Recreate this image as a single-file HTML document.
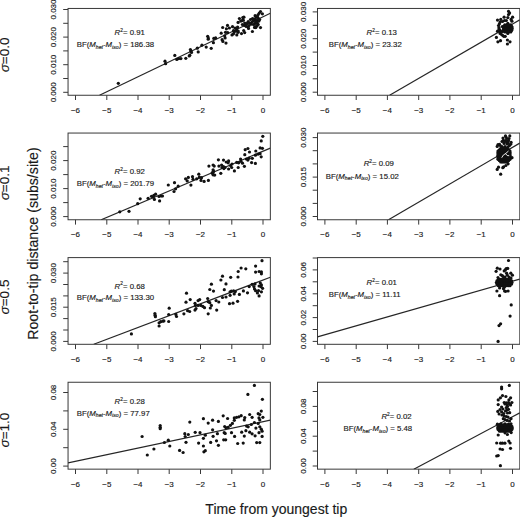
<!DOCTYPE html><html><head><meta charset="utf-8"><style>html,body{margin:0;padding:0;background:#fff;}svg{display:block;}text{font-family:"Liberation Sans",sans-serif;fill:#1a1a1a;stroke:#1a1a1a;stroke-width:0.15px;}</style></head><body>
<svg width="520" height="517" viewBox="0 0 520 517">
<defs>
<clipPath id="c1"><rect x="68.05" y="8.45" width="202.3" height="86.8"/></clipPath>
<clipPath id="c2"><rect x="317.5" y="8.45" width="202.29999999999995" height="86.8"/></clipPath>
<clipPath id="c3"><rect x="68.05" y="133.05" width="202.3" height="86.69999999999999"/></clipPath>
<clipPath id="c4"><rect x="317.5" y="133.05" width="202.29999999999995" height="86.69999999999999"/></clipPath>
<clipPath id="c5"><rect x="68.05" y="257.6" width="202.3" height="86.69999999999999"/></clipPath>
<clipPath id="c6"><rect x="317.5" y="257.6" width="202.29999999999995" height="86.69999999999999"/></clipPath>
<clipPath id="c7"><rect x="68.05" y="382.25" width="202.3" height="86.94999999999999"/></clipPath>
<clipPath id="c8"><rect x="317.5" y="382.25" width="202.29999999999995" height="86.94999999999999"/></clipPath>
</defs>
<rect x="68.05" y="8.45" width="202.3" height="86.8" fill="none" stroke="#383838" stroke-width="1"/>
<line x1="75.5" y1="95.25" x2="75.5" y2="100.0" stroke="#383838" stroke-width="1"/>
<text x="75.5" y="112.8" font-size="8" text-anchor="middle">−6</text>
<line x1="106.8" y1="95.25" x2="106.8" y2="100.0" stroke="#383838" stroke-width="1"/>
<text x="106.8" y="112.8" font-size="8" text-anchor="middle">−5</text>
<line x1="138.0" y1="95.25" x2="138.0" y2="100.0" stroke="#383838" stroke-width="1"/>
<text x="138.0" y="112.8" font-size="8" text-anchor="middle">−4</text>
<line x1="169.2" y1="95.25" x2="169.2" y2="100.0" stroke="#383838" stroke-width="1"/>
<text x="169.2" y="112.8" font-size="8" text-anchor="middle">−3</text>
<line x1="200.5" y1="95.25" x2="200.5" y2="100.0" stroke="#383838" stroke-width="1"/>
<text x="200.5" y="112.8" font-size="8" text-anchor="middle">−2</text>
<line x1="231.8" y1="95.25" x2="231.8" y2="100.0" stroke="#383838" stroke-width="1"/>
<text x="231.8" y="112.8" font-size="8" text-anchor="middle">−1</text>
<line x1="263.0" y1="95.25" x2="263.0" y2="100.0" stroke="#383838" stroke-width="1"/>
<text x="263.0" y="112.8" font-size="8" text-anchor="middle">0</text>
<line x1="63.2" y1="92.3" x2="68.05" y2="92.3" stroke="#383838" stroke-width="1"/>
<line x1="63.2" y1="78.5" x2="68.05" y2="78.5" stroke="#383838" stroke-width="1"/>
<line x1="63.2" y1="64.7" x2="68.05" y2="64.7" stroke="#383838" stroke-width="1"/>
<line x1="63.2" y1="50.9" x2="68.05" y2="50.9" stroke="#383838" stroke-width="1"/>
<line x1="63.2" y1="37.1" x2="68.05" y2="37.1" stroke="#383838" stroke-width="1"/>
<line x1="63.2" y1="23.3" x2="68.05" y2="23.3" stroke="#383838" stroke-width="1"/>
<line x1="63.2" y1="9.5" x2="68.05" y2="9.5" stroke="#383838" stroke-width="1"/>
<text x="56.4" y="92.3" font-size="8" text-anchor="middle" transform="rotate(-90 56.4 92.3)">0.000</text>
<text x="56.4" y="64.7" font-size="8" text-anchor="middle" transform="rotate(-90 56.4 64.7)">0.010</text>
<text x="56.4" y="37.1" font-size="8" text-anchor="middle" transform="rotate(-90 56.4 37.1)">0.020</text>
<text x="56.4" y="9.5" font-size="8" text-anchor="middle" transform="rotate(-90 56.4 9.5)">0.030</text>
<line x1="99.5" y1="95.25" x2="270.35" y2="13.3" stroke="#262626" stroke-width="1.2" clip-path="url(#c1)"/>
<g clip-path="url(#c1)" fill="#111"><circle cx="118.3" cy="83.3" r="1.6"/><circle cx="165.0" cy="61.2" r="1.6"/><circle cx="165.6" cy="63.7" r="1.6"/><circle cx="174.8" cy="55.4" r="1.6"/><circle cx="176.8" cy="59.4" r="1.6"/><circle cx="178.8" cy="58.6" r="1.6"/><circle cx="180.9" cy="58.6" r="1.6"/><circle cx="185.8" cy="58.3" r="1.6"/><circle cx="189.2" cy="56.0" r="1.6"/><circle cx="189.8" cy="55.2" r="1.6"/><circle cx="190.4" cy="49.6" r="1.6"/><circle cx="191.0" cy="51.3" r="1.6"/><circle cx="191.5" cy="52.5" r="1.6"/><circle cx="197.3" cy="48.2" r="1.6"/><circle cx="198.2" cy="51.9" r="1.6"/><circle cx="201.9" cy="45.2" r="1.6"/><circle cx="206.2" cy="47.1" r="1.6"/><circle cx="207.7" cy="36.3" r="1.6"/><circle cx="208.3" cy="38.1" r="1.6"/><circle cx="211.2" cy="48.3" r="1.6"/><circle cx="208.2" cy="39.2" r="1.6"/><circle cx="213.8" cy="38.4" r="1.6"/><circle cx="215.6" cy="37.9" r="1.6"/><circle cx="213.4" cy="42.7" r="1.6"/><circle cx="221.2" cy="33.2" r="1.6"/><circle cx="222.1" cy="39.7" r="1.6"/><circle cx="222.9" cy="41.4" r="1.6"/><circle cx="226.0" cy="43.1" r="1.6"/><circle cx="225.1" cy="37.9" r="1.6"/><circle cx="224.7" cy="35.8" r="1.6"/><circle cx="225.5" cy="32.3" r="1.6"/><circle cx="222.7" cy="27.5" r="1.6"/><circle cx="227.5" cy="25.4" r="1.6"/><circle cx="226.4" cy="28.8" r="1.6"/><circle cx="229.4" cy="28.0" r="1.6"/><circle cx="232.5" cy="26.7" r="1.6"/><circle cx="235.0" cy="28.0" r="1.6"/><circle cx="237.6" cy="27.1" r="1.6"/><circle cx="227.7" cy="32.7" r="1.6"/><circle cx="232.0" cy="34.9" r="1.6"/><circle cx="234.2" cy="31.9" r="1.6"/><circle cx="236.3" cy="31.0" r="1.6"/><circle cx="236.8" cy="34.9" r="1.6"/><circle cx="238.1" cy="32.3" r="1.6"/><circle cx="241.5" cy="33.6" r="1.6"/><circle cx="239.4" cy="18.5" r="1.6"/><circle cx="242.8" cy="17.6" r="1.6"/><circle cx="238.1" cy="22.4" r="1.6"/><circle cx="240.7" cy="21.1" r="1.6"/><circle cx="243.3" cy="20.2" r="1.6"/><circle cx="242.4" cy="24.5" r="1.6"/><circle cx="244.6" cy="25.4" r="1.6"/><circle cx="243.7" cy="30.6" r="1.6"/><circle cx="260.5" cy="11.5" r="1.6"/><circle cx="259.3" cy="13.0" r="1.6"/><circle cx="262.4" cy="13.8" r="1.6"/><circle cx="258.2" cy="14.5" r="1.6"/><circle cx="255.1" cy="15.7" r="1.6"/><circle cx="256.6" cy="17.2" r="1.6"/><circle cx="258.2" cy="18.0" r="1.6"/><circle cx="259.7" cy="19.5" r="1.6"/><circle cx="255.1" cy="18.8" r="1.6"/><circle cx="253.5" cy="20.7" r="1.6"/><circle cx="256.6" cy="20.7" r="1.6"/><circle cx="258.9" cy="21.1" r="1.6"/><circle cx="252.0" cy="22.2" r="1.6"/><circle cx="251.2" cy="24.2" r="1.6"/><circle cx="255.1" cy="23.4" r="1.6"/><circle cx="257.4" cy="23.4" r="1.6"/><circle cx="258.2" cy="24.5" r="1.6"/><circle cx="255.1" cy="26.5" r="1.6"/><circle cx="255.8" cy="27.6" r="1.6"/><circle cx="260.5" cy="27.6" r="1.6"/><circle cx="250.5" cy="19.5" r="1.6"/><circle cx="248.2" cy="21.5" r="1.6"/><circle cx="247.4" cy="23.0" r="1.6"/><circle cx="246.2" cy="24.5" r="1.6"/><circle cx="248.2" cy="26.8" r="1.6"/><circle cx="248.5" cy="28.4" r="1.6"/><circle cx="243.9" cy="17.2" r="1.6"/><circle cx="242.0" cy="20.7" r="1.6"/><circle cx="244.7" cy="23.0" r="1.6"/><circle cx="246.2" cy="26.5" r="1.6"/><circle cx="236.6" cy="28.8" r="1.6"/><circle cx="233.5" cy="30.7" r="1.6"/><circle cx="238.2" cy="31.1" r="1.6"/><circle cx="244.7" cy="32.6" r="1.6"/><circle cx="233.5" cy="33.8" r="1.6"/><circle cx="252.4" cy="31.5" r="1.6"/><circle cx="254.0" cy="19.0" r="1.6"/><circle cx="256.0" cy="21.5" r="1.6"/><circle cx="253.5" cy="24.5" r="1.6"/><circle cx="257.5" cy="16.0" r="1.6"/><circle cx="250.0" cy="23.0" r="1.6"/><circle cx="252.5" cy="18.5" r="1.6"/><circle cx="257.0" cy="26.0" r="1.6"/><circle cx="254.5" cy="27.5" r="1.6"/><circle cx="249.0" cy="25.5" r="1.6"/></g>
<text x="114.6" y="34.8" font-size="7.8"><tspan font-style="italic">R</tspan><tspan font-size="4.8" dy="-3.2">2</tspan><tspan dy="3.2">= 0.91</tspan></text>
<text x="76.7" y="46.9" font-size="7.8">BF(<tspan font-style="italic">M</tspan><tspan font-style="italic" font-size="5.2" dy="1.6">het</tspan><tspan dy="-1.6">-</tspan><tspan font-style="italic">M</tspan><tspan font-style="italic" font-size="5.2" dy="1.6">iso</tspan><tspan dy="-1.6">) = 186.38</tspan></text>
<rect x="317.5" y="8.45" width="202.3" height="86.8" fill="none" stroke="#383838" stroke-width="1"/>
<line x1="324.9" y1="95.25" x2="324.9" y2="100.0" stroke="#383838" stroke-width="1"/>
<text x="324.9" y="112.8" font-size="8" text-anchor="middle">−6</text>
<line x1="356.2" y1="95.25" x2="356.2" y2="100.0" stroke="#383838" stroke-width="1"/>
<text x="356.2" y="112.8" font-size="8" text-anchor="middle">−5</text>
<line x1="387.4" y1="95.25" x2="387.4" y2="100.0" stroke="#383838" stroke-width="1"/>
<text x="387.4" y="112.8" font-size="8" text-anchor="middle">−4</text>
<line x1="418.7" y1="95.25" x2="418.7" y2="100.0" stroke="#383838" stroke-width="1"/>
<text x="418.7" y="112.8" font-size="8" text-anchor="middle">−3</text>
<line x1="449.9" y1="95.25" x2="449.9" y2="100.0" stroke="#383838" stroke-width="1"/>
<text x="449.9" y="112.8" font-size="8" text-anchor="middle">−2</text>
<line x1="481.2" y1="95.25" x2="481.2" y2="100.0" stroke="#383838" stroke-width="1"/>
<text x="481.2" y="112.8" font-size="8" text-anchor="middle">−1</text>
<line x1="512.5" y1="95.25" x2="512.5" y2="100.0" stroke="#383838" stroke-width="1"/>
<text x="512.5" y="112.8" font-size="8" text-anchor="middle">0</text>
<line x1="312.7" y1="92.2" x2="317.5" y2="92.2" stroke="#383838" stroke-width="1"/>
<line x1="312.7" y1="78.8" x2="317.5" y2="78.8" stroke="#383838" stroke-width="1"/>
<line x1="312.7" y1="65.5" x2="317.5" y2="65.5" stroke="#383838" stroke-width="1"/>
<line x1="312.7" y1="52.1" x2="317.5" y2="52.1" stroke="#383838" stroke-width="1"/>
<line x1="312.7" y1="38.7" x2="317.5" y2="38.7" stroke="#383838" stroke-width="1"/>
<line x1="312.7" y1="25.3" x2="317.5" y2="25.3" stroke="#383838" stroke-width="1"/>
<line x1="312.7" y1="11.9" x2="317.5" y2="11.9" stroke="#383838" stroke-width="1"/>
<text x="305.9" y="92.2" font-size="8" text-anchor="middle" transform="rotate(-90 305.9 92.2)">0.000</text>
<text x="305.9" y="65.5" font-size="8" text-anchor="middle" transform="rotate(-90 305.9 65.5)">0.010</text>
<text x="305.9" y="38.7" font-size="8" text-anchor="middle" transform="rotate(-90 305.9 38.7)">0.020</text>
<text x="305.9" y="11.9" font-size="8" text-anchor="middle" transform="rotate(-90 305.9 11.9)">0.030</text>
<line x1="389.6" y1="95.25" x2="519.8" y2="19.8" stroke="#262626" stroke-width="1.2" clip-path="url(#c2)"/>
<g clip-path="url(#c2)" fill="#111"><circle cx="508.5" cy="11.3" r="1.6"/><circle cx="509.6" cy="13.1" r="1.6"/><circle cx="508.5" cy="14.6" r="1.6"/><circle cx="504.1" cy="17.2" r="1.6"/><circle cx="507.8" cy="17.6" r="1.6"/><circle cx="512.6" cy="17.2" r="1.6"/><circle cx="511.1" cy="19.4" r="1.6"/><circle cx="500.8" cy="19.4" r="1.6"/><circle cx="497.5" cy="20.1" r="1.6"/><circle cx="500.1" cy="22.0" r="1.6"/><circle cx="506.3" cy="20.5" r="1.6"/><circle cx="511.9" cy="21.2" r="1.6"/><circle cx="499.4" cy="23.8" r="1.6"/><circle cx="499.0" cy="27.5" r="1.6"/><circle cx="497.5" cy="31.2" r="1.6"/><circle cx="499.7" cy="30.1" r="1.6"/><circle cx="500.1" cy="33.4" r="1.6"/><circle cx="501.6" cy="34.5" r="1.6"/><circle cx="496.4" cy="37.4" r="1.6"/><circle cx="503.8" cy="36.3" r="1.6"/><circle cx="505.2" cy="36.3" r="1.6"/><circle cx="497.9" cy="41.8" r="1.6"/><circle cx="500.5" cy="40.7" r="1.6"/><circle cx="507.4" cy="40.0" r="1.6"/><circle cx="510.0" cy="41.8" r="1.6"/><circle cx="507.4" cy="44.0" r="1.6"/><circle cx="502.3" cy="26.5" r="1.6"/><circle cx="502.6" cy="31.5" r="1.6"/><circle cx="498.5" cy="25.5" r="1.6"/><circle cx="499.0" cy="29.0" r="1.6"/><circle cx="500.5" cy="32.0" r="1.6"/><circle cx="502.5" cy="21.5" r="1.6"/><circle cx="504.5" cy="20.5" r="1.6"/><circle cx="502.8" cy="35.5" r="1.6"/><circle cx="507.8" cy="23.4" r="1.6"/><circle cx="504.8" cy="24.8" r="1.6"/><circle cx="506.8" cy="24.8" r="1.6"/><circle cx="508.8" cy="24.8" r="1.6"/><circle cx="510.8" cy="24.8" r="1.6"/><circle cx="503.9" cy="26.3" r="1.6"/><circle cx="505.9" cy="26.3" r="1.6"/><circle cx="507.8" cy="26.3" r="1.6"/><circle cx="509.7" cy="26.3" r="1.6"/><circle cx="511.7" cy="26.3" r="1.6"/><circle cx="503.5" cy="27.7" r="1.6"/><circle cx="505.2" cy="27.7" r="1.6"/><circle cx="506.9" cy="27.7" r="1.6"/><circle cx="508.6" cy="27.7" r="1.6"/><circle cx="510.4" cy="27.7" r="1.6"/><circle cx="512.1" cy="27.7" r="1.6"/><circle cx="503.5" cy="29.1" r="1.6"/><circle cx="505.2" cy="29.1" r="1.6"/><circle cx="506.9" cy="29.1" r="1.6"/><circle cx="508.6" cy="29.1" r="1.6"/><circle cx="510.4" cy="29.1" r="1.6"/><circle cx="512.1" cy="29.1" r="1.6"/><circle cx="503.9" cy="30.5" r="1.6"/><circle cx="505.9" cy="30.5" r="1.6"/><circle cx="507.8" cy="30.5" r="1.6"/><circle cx="509.7" cy="30.5" r="1.6"/><circle cx="511.7" cy="30.5" r="1.6"/><circle cx="504.8" cy="32.0" r="1.6"/><circle cx="506.8" cy="32.0" r="1.6"/><circle cx="508.8" cy="32.0" r="1.6"/><circle cx="510.8" cy="32.0" r="1.6"/><circle cx="507.8" cy="33.4" r="1.6"/></g>
<text x="366.6" y="35.0" font-size="7.8"><tspan font-style="italic">R</tspan><tspan font-size="4.8" dy="-3.2">2</tspan><tspan dy="3.2">= 0.13</tspan></text>
<text x="328.7" y="47.0" font-size="7.8">BF(<tspan font-style="italic">M</tspan><tspan font-style="italic" font-size="5.2" dy="1.6">het</tspan><tspan dy="-1.6">-</tspan><tspan font-style="italic">M</tspan><tspan font-style="italic" font-size="5.2" dy="1.6">iso</tspan><tspan dy="-1.6">) = 23.32</tspan></text>
<rect x="68.05" y="133.05" width="202.3" height="86.7" fill="none" stroke="#383838" stroke-width="1"/>
<line x1="75.5" y1="219.75" x2="75.5" y2="224.6" stroke="#383838" stroke-width="1"/>
<text x="75.5" y="237.2" font-size="8" text-anchor="middle">−6</text>
<line x1="106.8" y1="219.75" x2="106.8" y2="224.6" stroke="#383838" stroke-width="1"/>
<text x="106.8" y="237.2" font-size="8" text-anchor="middle">−5</text>
<line x1="138.0" y1="219.75" x2="138.0" y2="224.6" stroke="#383838" stroke-width="1"/>
<text x="138.0" y="237.2" font-size="8" text-anchor="middle">−4</text>
<line x1="169.2" y1="219.75" x2="169.2" y2="224.6" stroke="#383838" stroke-width="1"/>
<text x="169.2" y="237.2" font-size="8" text-anchor="middle">−3</text>
<line x1="200.5" y1="219.75" x2="200.5" y2="224.6" stroke="#383838" stroke-width="1"/>
<text x="200.5" y="237.2" font-size="8" text-anchor="middle">−2</text>
<line x1="231.8" y1="219.75" x2="231.8" y2="224.6" stroke="#383838" stroke-width="1"/>
<text x="231.8" y="237.2" font-size="8" text-anchor="middle">−1</text>
<line x1="263.0" y1="219.75" x2="263.0" y2="224.6" stroke="#383838" stroke-width="1"/>
<text x="263.0" y="237.2" font-size="8" text-anchor="middle">0</text>
<line x1="63.2" y1="216.6" x2="68.05" y2="216.6" stroke="#383838" stroke-width="1"/>
<line x1="63.2" y1="202.6" x2="68.05" y2="202.6" stroke="#383838" stroke-width="1"/>
<line x1="63.2" y1="188.6" x2="68.05" y2="188.6" stroke="#383838" stroke-width="1"/>
<line x1="63.2" y1="174.6" x2="68.05" y2="174.6" stroke="#383838" stroke-width="1"/>
<line x1="63.2" y1="160.6" x2="68.05" y2="160.6" stroke="#383838" stroke-width="1"/>
<line x1="63.2" y1="146.6" x2="68.05" y2="146.6" stroke="#383838" stroke-width="1"/>
<text x="56.4" y="216.6" font-size="8" text-anchor="middle" transform="rotate(-90 56.4 216.6)">0.000</text>
<text x="56.4" y="188.6" font-size="8" text-anchor="middle" transform="rotate(-90 56.4 188.6)">0.010</text>
<text x="56.4" y="160.6" font-size="8" text-anchor="middle" transform="rotate(-90 56.4 160.6)">0.020</text>
<line x1="101.2" y1="219.75" x2="270.35" y2="148.1" stroke="#262626" stroke-width="1.2" clip-path="url(#c3)"/>
<g clip-path="url(#c3)" fill="#111"><circle cx="168.3" cy="185.0" r="1.6"/><circle cx="119.8" cy="211.8" r="1.6"/><circle cx="129.0" cy="211.3" r="1.6"/><circle cx="137.7" cy="203.7" r="1.6"/><circle cx="140.2" cy="198.8" r="1.6"/><circle cx="148.1" cy="198.3" r="1.6"/><circle cx="151.5" cy="196.3" r="1.6"/><circle cx="153.3" cy="197.1" r="1.6"/><circle cx="154.4" cy="199.4" r="1.6"/><circle cx="155.6" cy="194.2" r="1.6"/><circle cx="153.8" cy="195.4" r="1.6"/><circle cx="159.0" cy="196.5" r="1.6"/><circle cx="161.3" cy="196.0" r="1.6"/><circle cx="162.5" cy="196.0" r="1.6"/><circle cx="159.6" cy="200.9" r="1.6"/><circle cx="174.5" cy="182.7" r="1.6"/><circle cx="178.2" cy="186.2" r="1.6"/><circle cx="175.6" cy="188.8" r="1.6"/><circle cx="174.0" cy="191.5" r="1.6"/><circle cx="185.6" cy="178.8" r="1.6"/><circle cx="188.3" cy="177.4" r="1.6"/><circle cx="187.2" cy="180.9" r="1.6"/><circle cx="190.9" cy="185.1" r="1.6"/><circle cx="192.5" cy="176.7" r="1.6"/><circle cx="193.0" cy="179.3" r="1.6"/><circle cx="196.7" cy="178.8" r="1.6"/><circle cx="198.8" cy="174.2" r="1.6"/><circle cx="199.4" cy="177.2" r="1.6"/><circle cx="201.5" cy="177.7" r="1.6"/><circle cx="201.0" cy="180.4" r="1.6"/><circle cx="204.1" cy="181.4" r="1.6"/><circle cx="208.4" cy="180.4" r="1.6"/><circle cx="208.9" cy="166.1" r="1.6"/><circle cx="213.1" cy="165.0" r="1.6"/><circle cx="214.2" cy="166.1" r="1.6"/><circle cx="213.1" cy="169.8" r="1.6"/><circle cx="213.7" cy="171.4" r="1.6"/><circle cx="212.6" cy="173.5" r="1.6"/><circle cx="214.7" cy="175.1" r="1.6"/><circle cx="218.4" cy="159.8" r="1.6"/><circle cx="218.9" cy="166.1" r="1.6"/><circle cx="212.3" cy="172.5" r="1.6"/><circle cx="213.1" cy="174.8" r="1.6"/><circle cx="221.6" cy="165.1" r="1.6"/><circle cx="222.0" cy="167.5" r="1.6"/><circle cx="223.5" cy="166.7" r="1.6"/><circle cx="223.9" cy="168.6" r="1.6"/><circle cx="225.1" cy="167.5" r="1.6"/><circle cx="220.8" cy="173.3" r="1.6"/><circle cx="223.5" cy="160.1" r="1.6"/><circle cx="226.2" cy="162.0" r="1.6"/><circle cx="228.2" cy="162.8" r="1.6"/><circle cx="228.6" cy="160.9" r="1.6"/><circle cx="230.5" cy="165.5" r="1.6"/><circle cx="232.0" cy="164.0" r="1.6"/><circle cx="231.7" cy="167.5" r="1.6"/><circle cx="228.6" cy="169.0" r="1.6"/><circle cx="234.4" cy="170.9" r="1.6"/><circle cx="236.7" cy="162.4" r="1.6"/><circle cx="238.6" cy="162.8" r="1.6"/><circle cx="240.6" cy="159.0" r="1.6"/><circle cx="240.9" cy="161.3" r="1.6"/><circle cx="242.5" cy="163.2" r="1.6"/><circle cx="238.2" cy="167.5" r="1.6"/><circle cx="244.4" cy="166.3" r="1.6"/><circle cx="244.8" cy="154.7" r="1.6"/><circle cx="245.2" cy="149.7" r="1.6"/><circle cx="247.9" cy="148.5" r="1.6"/><circle cx="249.5" cy="152.0" r="1.6"/><circle cx="246.4" cy="159.0" r="1.6"/><circle cx="247.9" cy="160.1" r="1.6"/><circle cx="249.1" cy="158.2" r="1.6"/><circle cx="262.8" cy="136.3" r="1.6"/><circle cx="261.2" cy="140.9" r="1.6"/><circle cx="260.1" cy="147.9" r="1.6"/><circle cx="262.4" cy="148.3" r="1.6"/><circle cx="255.8" cy="151.0" r="1.6"/><circle cx="255.4" cy="155.2" r="1.6"/><circle cx="258.1" cy="154.1" r="1.6"/><circle cx="260.1" cy="153.7" r="1.6"/><circle cx="261.2" cy="156.8" r="1.6"/><circle cx="252.3" cy="158.3" r="1.6"/><circle cx="251.6" cy="162.6" r="1.6"/><circle cx="255.4" cy="163.4" r="1.6"/></g>
<text x="114.6" y="174.2" font-size="7.8"><tspan font-style="italic">R</tspan><tspan font-size="4.8" dy="-3.2">2</tspan><tspan dy="3.2">= 0.92</tspan></text>
<text x="76.7" y="186.2" font-size="7.8">BF(<tspan font-style="italic">M</tspan><tspan font-style="italic" font-size="5.2" dy="1.6">het</tspan><tspan dy="-1.6">-</tspan><tspan font-style="italic">M</tspan><tspan font-style="italic" font-size="5.2" dy="1.6">iso</tspan><tspan dy="-1.6">) = 201.79</tspan></text>
<rect x="317.5" y="133.05" width="202.3" height="86.7" fill="none" stroke="#383838" stroke-width="1"/>
<line x1="324.9" y1="219.75" x2="324.9" y2="224.6" stroke="#383838" stroke-width="1"/>
<text x="324.9" y="237.2" font-size="8" text-anchor="middle">−6</text>
<line x1="356.2" y1="219.75" x2="356.2" y2="224.6" stroke="#383838" stroke-width="1"/>
<text x="356.2" y="237.2" font-size="8" text-anchor="middle">−5</text>
<line x1="387.4" y1="219.75" x2="387.4" y2="224.6" stroke="#383838" stroke-width="1"/>
<text x="387.4" y="237.2" font-size="8" text-anchor="middle">−4</text>
<line x1="418.7" y1="219.75" x2="418.7" y2="224.6" stroke="#383838" stroke-width="1"/>
<text x="418.7" y="237.2" font-size="8" text-anchor="middle">−3</text>
<line x1="449.9" y1="219.75" x2="449.9" y2="224.6" stroke="#383838" stroke-width="1"/>
<text x="449.9" y="237.2" font-size="8" text-anchor="middle">−2</text>
<line x1="481.2" y1="219.75" x2="481.2" y2="224.6" stroke="#383838" stroke-width="1"/>
<text x="481.2" y="237.2" font-size="8" text-anchor="middle">−1</text>
<line x1="512.5" y1="219.75" x2="512.5" y2="224.6" stroke="#383838" stroke-width="1"/>
<text x="512.5" y="237.2" font-size="8" text-anchor="middle">0</text>
<line x1="312.7" y1="216.5" x2="317.5" y2="216.5" stroke="#383838" stroke-width="1"/>
<line x1="312.7" y1="203.4" x2="317.5" y2="203.4" stroke="#383838" stroke-width="1"/>
<line x1="312.7" y1="190.2" x2="317.5" y2="190.2" stroke="#383838" stroke-width="1"/>
<line x1="312.7" y1="177.1" x2="317.5" y2="177.1" stroke="#383838" stroke-width="1"/>
<line x1="312.7" y1="163.9" x2="317.5" y2="163.9" stroke="#383838" stroke-width="1"/>
<line x1="312.7" y1="150.7" x2="317.5" y2="150.7" stroke="#383838" stroke-width="1"/>
<line x1="312.7" y1="137.6" x2="317.5" y2="137.6" stroke="#383838" stroke-width="1"/>
<text x="305.9" y="216.5" font-size="8" text-anchor="middle" transform="rotate(-90 305.9 216.5)">0.000</text>
<text x="305.9" y="177.1" font-size="8" text-anchor="middle" transform="rotate(-90 305.9 177.1)">0.015</text>
<text x="305.9" y="137.6" font-size="8" text-anchor="middle" transform="rotate(-90 305.9 137.6)">0.030</text>
<line x1="388.5" y1="219.75" x2="519.8" y2="143.1" stroke="#262626" stroke-width="1.2" clip-path="url(#c4)"/>
<g clip-path="url(#c4)" fill="#111"><circle cx="505.5" cy="135.9" r="1.6"/><circle cx="509.8" cy="135.9" r="1.6"/><circle cx="506.8" cy="138.5" r="1.6"/><circle cx="503.3" cy="140.3" r="1.6"/><circle cx="505.5" cy="140.7" r="1.6"/><circle cx="508.5" cy="140.7" r="1.6"/><circle cx="511.1" cy="142.4" r="1.6"/><circle cx="510.7" cy="144.2" r="1.6"/><circle cx="508.1" cy="143.3" r="1.6"/><circle cx="498.0" cy="144.6" r="1.6"/><circle cx="497.2" cy="146.4" r="1.6"/><circle cx="500.2" cy="145.5" r="1.6"/><circle cx="502.0" cy="141.5" r="1.6"/><circle cx="507.0" cy="142.0" r="1.6"/><circle cx="504.0" cy="143.5" r="1.6"/><circle cx="512.0" cy="157.7" r="1.6"/><circle cx="508.1" cy="163.8" r="1.6"/><circle cx="505.9" cy="165.5" r="1.6"/><circle cx="503.7" cy="166.8" r="1.6"/><circle cx="502.8" cy="167.7" r="1.6"/><circle cx="498.5" cy="167.2" r="1.6"/><circle cx="497.2" cy="169.4" r="1.6"/><circle cx="500.7" cy="174.2" r="1.6"/><circle cx="499.5" cy="144.3" r="1.6"/><circle cx="503.0" cy="138.0" r="1.6"/><circle cx="506.0" cy="137.0" r="1.6"/><circle cx="509.0" cy="138.5" r="1.6"/><circle cx="504.5" cy="142.0" r="1.6"/><circle cx="507.0" cy="144.0" r="1.6"/><circle cx="509.5" cy="145.5" r="1.6"/><circle cx="502.0" cy="146.5" r="1.6"/><circle cx="505.0" cy="146.5" r="1.6"/><circle cx="508.0" cy="147.0" r="1.6"/><circle cx="500.7" cy="148.4" r="1.6"/><circle cx="502.0" cy="148.4" r="1.6"/><circle cx="503.3" cy="148.4" r="1.6"/><circle cx="504.7" cy="148.4" r="1.6"/><circle cx="506.0" cy="148.4" r="1.6"/><circle cx="507.3" cy="148.4" r="1.6"/><circle cx="499.3" cy="149.8" r="1.6"/><circle cx="500.7" cy="149.8" r="1.6"/><circle cx="502.0" cy="149.8" r="1.6"/><circle cx="503.3" cy="149.8" r="1.6"/><circle cx="504.7" cy="149.8" r="1.6"/><circle cx="506.0" cy="149.8" r="1.6"/><circle cx="507.3" cy="149.8" r="1.6"/><circle cx="508.7" cy="149.8" r="1.6"/><circle cx="498.0" cy="151.1" r="1.6"/><circle cx="499.3" cy="151.1" r="1.6"/><circle cx="500.7" cy="151.1" r="1.6"/><circle cx="502.0" cy="151.1" r="1.6"/><circle cx="503.3" cy="151.1" r="1.6"/><circle cx="504.7" cy="151.1" r="1.6"/><circle cx="506.0" cy="151.1" r="1.6"/><circle cx="507.3" cy="151.1" r="1.6"/><circle cx="508.7" cy="151.1" r="1.6"/><circle cx="510.0" cy="151.1" r="1.6"/><circle cx="498.0" cy="152.5" r="1.6"/><circle cx="499.3" cy="152.5" r="1.6"/><circle cx="500.7" cy="152.5" r="1.6"/><circle cx="502.0" cy="152.5" r="1.6"/><circle cx="503.3" cy="152.5" r="1.6"/><circle cx="504.7" cy="152.5" r="1.6"/><circle cx="506.0" cy="152.5" r="1.6"/><circle cx="507.3" cy="152.5" r="1.6"/><circle cx="508.7" cy="152.5" r="1.6"/><circle cx="510.0" cy="152.5" r="1.6"/><circle cx="498.0" cy="153.8" r="1.6"/><circle cx="499.3" cy="153.8" r="1.6"/><circle cx="500.7" cy="153.8" r="1.6"/><circle cx="502.0" cy="153.8" r="1.6"/><circle cx="503.3" cy="153.8" r="1.6"/><circle cx="504.7" cy="153.8" r="1.6"/><circle cx="506.0" cy="153.8" r="1.6"/><circle cx="507.3" cy="153.8" r="1.6"/><circle cx="508.7" cy="153.8" r="1.6"/><circle cx="510.0" cy="153.8" r="1.6"/><circle cx="498.0" cy="155.2" r="1.6"/><circle cx="499.3" cy="155.2" r="1.6"/><circle cx="500.7" cy="155.2" r="1.6"/><circle cx="502.0" cy="155.2" r="1.6"/><circle cx="503.3" cy="155.2" r="1.6"/><circle cx="504.7" cy="155.2" r="1.6"/><circle cx="506.0" cy="155.2" r="1.6"/><circle cx="507.3" cy="155.2" r="1.6"/><circle cx="508.7" cy="155.2" r="1.6"/><circle cx="510.0" cy="155.2" r="1.6"/><circle cx="498.0" cy="156.6" r="1.6"/><circle cx="499.3" cy="156.6" r="1.6"/><circle cx="500.7" cy="156.6" r="1.6"/><circle cx="502.0" cy="156.6" r="1.6"/><circle cx="503.3" cy="156.6" r="1.6"/><circle cx="504.7" cy="156.6" r="1.6"/><circle cx="506.0" cy="156.6" r="1.6"/><circle cx="507.3" cy="156.6" r="1.6"/><circle cx="508.7" cy="156.6" r="1.6"/><circle cx="510.0" cy="156.6" r="1.6"/><circle cx="498.0" cy="157.9" r="1.6"/><circle cx="499.3" cy="157.9" r="1.6"/><circle cx="500.7" cy="157.9" r="1.6"/><circle cx="502.0" cy="157.9" r="1.6"/><circle cx="503.3" cy="157.9" r="1.6"/><circle cx="504.7" cy="157.9" r="1.6"/><circle cx="506.0" cy="157.9" r="1.6"/><circle cx="507.3" cy="157.9" r="1.6"/><circle cx="508.7" cy="157.9" r="1.6"/><circle cx="510.0" cy="157.9" r="1.6"/><circle cx="498.0" cy="159.3" r="1.6"/><circle cx="499.3" cy="159.3" r="1.6"/><circle cx="500.7" cy="159.3" r="1.6"/><circle cx="502.0" cy="159.3" r="1.6"/><circle cx="503.3" cy="159.3" r="1.6"/><circle cx="504.7" cy="159.3" r="1.6"/><circle cx="506.0" cy="159.3" r="1.6"/><circle cx="507.3" cy="159.3" r="1.6"/><circle cx="508.7" cy="159.3" r="1.6"/><circle cx="510.0" cy="159.3" r="1.6"/><circle cx="499.3" cy="160.6" r="1.6"/><circle cx="500.7" cy="160.6" r="1.6"/><circle cx="502.0" cy="160.6" r="1.6"/><circle cx="503.3" cy="160.6" r="1.6"/><circle cx="504.7" cy="160.6" r="1.6"/><circle cx="506.0" cy="160.6" r="1.6"/><circle cx="507.3" cy="160.6" r="1.6"/><circle cx="508.7" cy="160.6" r="1.6"/><circle cx="500.7" cy="162.0" r="1.6"/><circle cx="502.0" cy="162.0" r="1.6"/><circle cx="503.3" cy="162.0" r="1.6"/><circle cx="504.7" cy="162.0" r="1.6"/><circle cx="506.0" cy="162.0" r="1.6"/><circle cx="507.3" cy="162.0" r="1.6"/></g>
<polyline points="508.2,151.3 505.6,153.6 503.3,155.1 501.9,157.4" fill="none" stroke="#fff" stroke-width="0.9" stroke-linecap="round" stroke-linejoin="round"/>
<polyline points="505.6,153.6 507.2,155.5 508.8,155.7" fill="none" stroke="#fff" stroke-width="0.9" stroke-linecap="round" stroke-linejoin="round"/>
<text x="363.7" y="166.2" font-size="7.8"><tspan font-style="italic">R</tspan><tspan font-size="4.8" dy="-3.2">2</tspan><tspan dy="3.2">= 0.09</tspan></text>
<text x="325.8" y="178.5" font-size="7.8">BF(<tspan font-style="italic">M</tspan><tspan font-style="italic" font-size="5.2" dy="1.6">het</tspan><tspan dy="-1.6">-</tspan><tspan font-style="italic">M</tspan><tspan font-style="italic" font-size="5.2" dy="1.6">iso</tspan><tspan dy="-1.6">) = 15.02</tspan></text>
<rect x="68.05" y="257.6" width="202.3" height="86.7" fill="none" stroke="#383838" stroke-width="1"/>
<line x1="75.5" y1="344.3" x2="75.5" y2="349.1" stroke="#383838" stroke-width="1"/>
<text x="75.5" y="361.8" font-size="8" text-anchor="middle">−6</text>
<line x1="106.8" y1="344.3" x2="106.8" y2="349.1" stroke="#383838" stroke-width="1"/>
<text x="106.8" y="361.8" font-size="8" text-anchor="middle">−5</text>
<line x1="138.0" y1="344.3" x2="138.0" y2="349.1" stroke="#383838" stroke-width="1"/>
<text x="138.0" y="361.8" font-size="8" text-anchor="middle">−4</text>
<line x1="169.2" y1="344.3" x2="169.2" y2="349.1" stroke="#383838" stroke-width="1"/>
<text x="169.2" y="361.8" font-size="8" text-anchor="middle">−3</text>
<line x1="200.5" y1="344.3" x2="200.5" y2="349.1" stroke="#383838" stroke-width="1"/>
<text x="200.5" y="361.8" font-size="8" text-anchor="middle">−2</text>
<line x1="231.8" y1="344.3" x2="231.8" y2="349.1" stroke="#383838" stroke-width="1"/>
<text x="231.8" y="361.8" font-size="8" text-anchor="middle">−1</text>
<line x1="263.0" y1="344.3" x2="263.0" y2="349.1" stroke="#383838" stroke-width="1"/>
<text x="263.0" y="361.8" font-size="8" text-anchor="middle">0</text>
<line x1="63.2" y1="341.4" x2="68.05" y2="341.4" stroke="#383838" stroke-width="1"/>
<line x1="63.2" y1="330.0" x2="68.05" y2="330.0" stroke="#383838" stroke-width="1"/>
<line x1="63.2" y1="318.6" x2="68.05" y2="318.6" stroke="#383838" stroke-width="1"/>
<line x1="63.2" y1="307.2" x2="68.05" y2="307.2" stroke="#383838" stroke-width="1"/>
<line x1="63.2" y1="295.9" x2="68.05" y2="295.9" stroke="#383838" stroke-width="1"/>
<line x1="63.2" y1="284.5" x2="68.05" y2="284.5" stroke="#383838" stroke-width="1"/>
<line x1="63.2" y1="273.1" x2="68.05" y2="273.1" stroke="#383838" stroke-width="1"/>
<line x1="63.2" y1="261.7" x2="68.05" y2="261.7" stroke="#383838" stroke-width="1"/>
<text x="56.4" y="341.4" font-size="8" text-anchor="middle" transform="rotate(-90 56.4 341.4)">0.000</text>
<text x="56.4" y="307.2" font-size="8" text-anchor="middle" transform="rotate(-90 56.4 307.2)">0.015</text>
<text x="56.4" y="273.1" font-size="8" text-anchor="middle" transform="rotate(-90 56.4 273.1)">0.030</text>
<line x1="93.8" y1="344.3" x2="270.35" y2="277.3" stroke="#262626" stroke-width="1.2" clip-path="url(#c5)"/>
<g clip-path="url(#c5)" fill="#111"><circle cx="131.4" cy="333.9" r="1.6"/><circle cx="154.9" cy="313.5" r="1.6"/><circle cx="155.1" cy="315.2" r="1.6"/><circle cx="155.4" cy="316.7" r="1.6"/><circle cx="159.1" cy="322.8" r="1.6"/><circle cx="160.7" cy="321.7" r="1.6"/><circle cx="162.8" cy="321.2" r="1.6"/><circle cx="163.9" cy="320.9" r="1.6"/><circle cx="159.1" cy="326.0" r="1.6"/><circle cx="169.2" cy="308.2" r="1.6"/><circle cx="168.7" cy="314.5" r="1.6"/><circle cx="168.7" cy="321.5" r="1.6"/><circle cx="175.9" cy="314.4" r="1.6"/><circle cx="176.5" cy="316.5" r="1.6"/><circle cx="183.9" cy="313.8" r="1.6"/><circle cx="187.6" cy="310.7" r="1.6"/><circle cx="189.7" cy="311.5" r="1.6"/><circle cx="186.5" cy="293.2" r="1.6"/><circle cx="190.2" cy="299.6" r="1.6"/><circle cx="186.0" cy="302.2" r="1.6"/><circle cx="195.0" cy="303.3" r="1.6"/><circle cx="195.5" cy="305.4" r="1.6"/><circle cx="195.0" cy="310.1" r="1.6"/><circle cx="196.0" cy="308.6" r="1.6"/><circle cx="198.1" cy="300.6" r="1.6"/><circle cx="199.7" cy="299.6" r="1.6"/><circle cx="198.1" cy="305.4" r="1.6"/><circle cx="200.8" cy="305.4" r="1.6"/><circle cx="202.9" cy="306.4" r="1.6"/><circle cx="204.5" cy="307.7" r="1.6"/><circle cx="207.7" cy="298.5" r="1.6"/><circle cx="208.2" cy="301.7" r="1.6"/><circle cx="209.8" cy="302.7" r="1.6"/><circle cx="211.4" cy="305.4" r="1.6"/><circle cx="210.3" cy="308.0" r="1.6"/><circle cx="208.2" cy="313.8" r="1.6"/><circle cx="209.8" cy="289.5" r="1.6"/><circle cx="211.4" cy="284.2" r="1.6"/><circle cx="213.5" cy="291.1" r="1.6"/><circle cx="216.1" cy="300.6" r="1.6"/><circle cx="218.8" cy="302.0" r="1.6"/><circle cx="216.7" cy="310.1" r="1.6"/><circle cx="220.9" cy="280.0" r="1.6"/><circle cx="222.5" cy="297.5" r="1.6"/><circle cx="262.0" cy="260.7" r="1.6"/><circle cx="255.6" cy="266.1" r="1.6"/><circle cx="241.1" cy="268.0" r="1.6"/><circle cx="245.8" cy="268.8" r="1.6"/><circle cx="238.2" cy="271.5" r="1.6"/><circle cx="255.6" cy="272.1" r="1.6"/><circle cx="259.1" cy="271.5" r="1.6"/><circle cx="261.4" cy="271.9" r="1.6"/><circle cx="261.4" cy="273.8" r="1.6"/><circle cx="222.5" cy="276.2" r="1.6"/><circle cx="230.7" cy="277.3" r="1.6"/><circle cx="238.0" cy="277.0" r="1.6"/><circle cx="226.0" cy="283.9" r="1.6"/><circle cx="224.3" cy="289.7" r="1.6"/><circle cx="249.2" cy="286.6" r="1.6"/><circle cx="252.1" cy="284.3" r="1.6"/><circle cx="255.0" cy="283.9" r="1.6"/><circle cx="253.9" cy="286.6" r="1.6"/><circle cx="254.5" cy="288.9" r="1.6"/><circle cx="255.6" cy="290.7" r="1.6"/><circle cx="257.4" cy="293.0" r="1.6"/><circle cx="259.1" cy="295.9" r="1.6"/><circle cx="258.5" cy="290.7" r="1.6"/><circle cx="260.3" cy="283.1" r="1.6"/><circle cx="261.4" cy="284.9" r="1.6"/><circle cx="260.9" cy="286.6" r="1.6"/><circle cx="262.6" cy="288.3" r="1.6"/><circle cx="261.4" cy="291.8" r="1.6"/><circle cx="259.1" cy="286.0" r="1.6"/><circle cx="230.1" cy="291.8" r="1.6"/><circle cx="231.3" cy="291.2" r="1.6"/><circle cx="233.6" cy="290.9" r="1.6"/><circle cx="235.3" cy="291.6" r="1.6"/><circle cx="234.2" cy="293.9" r="1.6"/><circle cx="230.1" cy="295.3" r="1.6"/><circle cx="239.4" cy="294.4" r="1.6"/><circle cx="243.4" cy="290.9" r="1.6"/><circle cx="247.5" cy="292.8" r="1.6"/><circle cx="226.0" cy="297.0" r="1.6"/><circle cx="229.5" cy="303.7" r="1.6"/><circle cx="233.0" cy="303.2" r="1.6"/><circle cx="237.6" cy="301.3" r="1.6"/></g>
<text x="114.6" y="288.5" font-size="7.8"><tspan font-style="italic">R</tspan><tspan font-size="4.8" dy="-3.2">2</tspan><tspan dy="3.2">= 0.68</tspan></text>
<text x="76.7" y="300.4" font-size="7.8">BF(<tspan font-style="italic">M</tspan><tspan font-style="italic" font-size="5.2" dy="1.6">het</tspan><tspan dy="-1.6">-</tspan><tspan font-style="italic">M</tspan><tspan font-style="italic" font-size="5.2" dy="1.6">iso</tspan><tspan dy="-1.6">) = 133.30</tspan></text>
<rect x="317.5" y="257.6" width="202.3" height="86.7" fill="none" stroke="#383838" stroke-width="1"/>
<line x1="324.9" y1="344.3" x2="324.9" y2="349.1" stroke="#383838" stroke-width="1"/>
<text x="324.9" y="361.8" font-size="8" text-anchor="middle">−6</text>
<line x1="356.2" y1="344.3" x2="356.2" y2="349.1" stroke="#383838" stroke-width="1"/>
<text x="356.2" y="361.8" font-size="8" text-anchor="middle">−5</text>
<line x1="387.4" y1="344.3" x2="387.4" y2="349.1" stroke="#383838" stroke-width="1"/>
<text x="387.4" y="361.8" font-size="8" text-anchor="middle">−4</text>
<line x1="418.7" y1="344.3" x2="418.7" y2="349.1" stroke="#383838" stroke-width="1"/>
<text x="418.7" y="361.8" font-size="8" text-anchor="middle">−3</text>
<line x1="449.9" y1="344.3" x2="449.9" y2="349.1" stroke="#383838" stroke-width="1"/>
<text x="449.9" y="361.8" font-size="8" text-anchor="middle">−2</text>
<line x1="481.2" y1="344.3" x2="481.2" y2="349.1" stroke="#383838" stroke-width="1"/>
<text x="481.2" y="361.8" font-size="8" text-anchor="middle">−1</text>
<line x1="512.5" y1="344.3" x2="512.5" y2="349.1" stroke="#383838" stroke-width="1"/>
<text x="512.5" y="361.8" font-size="8" text-anchor="middle">0</text>
<line x1="312.7" y1="341.4" x2="317.5" y2="341.4" stroke="#383838" stroke-width="1"/>
<line x1="312.7" y1="329.5" x2="317.5" y2="329.5" stroke="#383838" stroke-width="1"/>
<line x1="312.7" y1="317.6" x2="317.5" y2="317.6" stroke="#383838" stroke-width="1"/>
<line x1="312.7" y1="305.7" x2="317.5" y2="305.7" stroke="#383838" stroke-width="1"/>
<line x1="312.7" y1="293.8" x2="317.5" y2="293.8" stroke="#383838" stroke-width="1"/>
<line x1="312.7" y1="281.8" x2="317.5" y2="281.8" stroke="#383838" stroke-width="1"/>
<line x1="312.7" y1="269.9" x2="317.5" y2="269.9" stroke="#383838" stroke-width="1"/>
<line x1="312.7" y1="258.0" x2="317.5" y2="258.0" stroke="#383838" stroke-width="1"/>
<text x="305.9" y="341.4" font-size="8" text-anchor="middle" transform="rotate(-90 305.9 341.4)">0.00</text>
<text x="305.9" y="317.6" font-size="8" text-anchor="middle" transform="rotate(-90 305.9 317.6)">0.02</text>
<text x="305.9" y="293.8" font-size="8" text-anchor="middle" transform="rotate(-90 305.9 293.8)">0.04</text>
<text x="305.9" y="269.9" font-size="8" text-anchor="middle" transform="rotate(-90 305.9 269.9)">0.06</text>
<line x1="317.5" y1="336.9" x2="519.8" y2="279.1" stroke="#262626" stroke-width="1.2" clip-path="url(#c6)"/>
<g clip-path="url(#c6)" fill="#111"><circle cx="508.5" cy="260.5" r="1.6"/><circle cx="497.3" cy="268.2" r="1.6"/><circle cx="500.0" cy="269.0" r="1.6"/><circle cx="496.1" cy="271.3" r="1.6"/><circle cx="506.2" cy="268.6" r="1.6"/><circle cx="507.7" cy="268.4" r="1.6"/><circle cx="504.2" cy="270.9" r="1.6"/><circle cx="505.4" cy="269.8" r="1.6"/><circle cx="500.8" cy="274.8" r="1.6"/><circle cx="502.3" cy="275.6" r="1.6"/><circle cx="506.6" cy="273.2" r="1.6"/><circle cx="507.3" cy="275.2" r="1.6"/><circle cx="510.8" cy="273.2" r="1.6"/><circle cx="512.4" cy="275.2" r="1.6"/><circle cx="499.6" cy="287.9" r="1.6"/><circle cx="503.5" cy="288.7" r="1.6"/><circle cx="504.6" cy="291.0" r="1.6"/><circle cx="508.1" cy="291.0" r="1.6"/><circle cx="496.9" cy="291.0" r="1.6"/><circle cx="499.6" cy="295.7" r="1.6"/><circle cx="505.6" cy="291.3" r="1.6"/><circle cx="511.2" cy="304.9" r="1.6"/><circle cx="510.1" cy="316.1" r="1.6"/><circle cx="500.6" cy="323.8" r="1.6"/><circle cx="499.0" cy="325.6" r="1.6"/><circle cx="498.1" cy="341.4" r="1.6"/><circle cx="503.0" cy="276.5" r="1.6"/><circle cx="505.0" cy="277.0" r="1.6"/><circle cx="509.0" cy="277.0" r="1.6"/><circle cx="498.0" cy="277.5" r="1.6"/><circle cx="511.0" cy="278.0" r="1.6"/><circle cx="504.2" cy="277.7" r="1.6"/><circle cx="498.4" cy="279.3" r="1.6"/><circle cx="500.1" cy="279.3" r="1.6"/><circle cx="501.7" cy="279.3" r="1.6"/><circle cx="503.4" cy="279.3" r="1.6"/><circle cx="505.0" cy="279.3" r="1.6"/><circle cx="506.7" cy="279.3" r="1.6"/><circle cx="508.4" cy="279.3" r="1.6"/><circle cx="510.0" cy="279.3" r="1.6"/><circle cx="496.9" cy="280.9" r="1.6"/><circle cx="498.5" cy="280.9" r="1.6"/><circle cx="500.1" cy="280.9" r="1.6"/><circle cx="501.8" cy="280.9" r="1.6"/><circle cx="503.4" cy="280.9" r="1.6"/><circle cx="505.0" cy="280.9" r="1.6"/><circle cx="506.6" cy="280.9" r="1.6"/><circle cx="508.3" cy="280.9" r="1.6"/><circle cx="509.9" cy="280.9" r="1.6"/><circle cx="511.6" cy="280.9" r="1.6"/><circle cx="496.4" cy="282.5" r="1.6"/><circle cx="498.1" cy="282.5" r="1.6"/><circle cx="499.9" cy="282.5" r="1.6"/><circle cx="501.6" cy="282.5" r="1.6"/><circle cx="503.3" cy="282.5" r="1.6"/><circle cx="505.1" cy="282.5" r="1.6"/><circle cx="506.8" cy="282.5" r="1.6"/><circle cx="508.5" cy="282.5" r="1.6"/><circle cx="510.3" cy="282.5" r="1.6"/><circle cx="512.0" cy="282.5" r="1.6"/><circle cx="496.9" cy="284.1" r="1.6"/><circle cx="498.5" cy="284.1" r="1.6"/><circle cx="500.1" cy="284.1" r="1.6"/><circle cx="501.8" cy="284.1" r="1.6"/><circle cx="503.4" cy="284.1" r="1.6"/><circle cx="505.0" cy="284.1" r="1.6"/><circle cx="506.6" cy="284.1" r="1.6"/><circle cx="508.3" cy="284.1" r="1.6"/><circle cx="509.9" cy="284.1" r="1.6"/><circle cx="511.6" cy="284.1" r="1.6"/><circle cx="498.4" cy="285.7" r="1.6"/><circle cx="500.1" cy="285.7" r="1.6"/><circle cx="501.7" cy="285.7" r="1.6"/><circle cx="503.4" cy="285.7" r="1.6"/><circle cx="505.0" cy="285.7" r="1.6"/><circle cx="506.7" cy="285.7" r="1.6"/><circle cx="508.4" cy="285.7" r="1.6"/><circle cx="510.0" cy="285.7" r="1.6"/><circle cx="504.2" cy="287.3" r="1.6"/></g>
<text x="366.6" y="285.0" font-size="7.8"><tspan font-style="italic">R</tspan><tspan font-size="4.8" dy="-3.2">2</tspan><tspan dy="3.2">= 0.01</tspan></text>
<text x="328.7" y="296.9" font-size="7.8">BF(<tspan font-style="italic">M</tspan><tspan font-style="italic" font-size="5.2" dy="1.6">het</tspan><tspan dy="-1.6">-</tspan><tspan font-style="italic">M</tspan><tspan font-style="italic" font-size="5.2" dy="1.6">iso</tspan><tspan dy="-1.6">) = 11.11</tspan></text>
<rect x="68.05" y="382.25" width="202.3" height="86.9" fill="none" stroke="#383838" stroke-width="1"/>
<line x1="75.5" y1="469.2" x2="75.5" y2="474.0" stroke="#383838" stroke-width="1"/>
<text x="75.5" y="486.7" font-size="8" text-anchor="middle">−6</text>
<line x1="106.8" y1="469.2" x2="106.8" y2="474.0" stroke="#383838" stroke-width="1"/>
<text x="106.8" y="486.7" font-size="8" text-anchor="middle">−5</text>
<line x1="138.0" y1="469.2" x2="138.0" y2="474.0" stroke="#383838" stroke-width="1"/>
<text x="138.0" y="486.7" font-size="8" text-anchor="middle">−4</text>
<line x1="169.2" y1="469.2" x2="169.2" y2="474.0" stroke="#383838" stroke-width="1"/>
<text x="169.2" y="486.7" font-size="8" text-anchor="middle">−3</text>
<line x1="200.5" y1="469.2" x2="200.5" y2="474.0" stroke="#383838" stroke-width="1"/>
<text x="200.5" y="486.7" font-size="8" text-anchor="middle">−2</text>
<line x1="231.8" y1="469.2" x2="231.8" y2="474.0" stroke="#383838" stroke-width="1"/>
<text x="231.8" y="486.7" font-size="8" text-anchor="middle">−1</text>
<line x1="263.0" y1="469.2" x2="263.0" y2="474.0" stroke="#383838" stroke-width="1"/>
<text x="263.0" y="486.7" font-size="8" text-anchor="middle">0</text>
<line x1="63.2" y1="466.1" x2="68.05" y2="466.1" stroke="#383838" stroke-width="1"/>
<line x1="63.2" y1="447.7" x2="68.05" y2="447.7" stroke="#383838" stroke-width="1"/>
<line x1="63.2" y1="429.3" x2="68.05" y2="429.3" stroke="#383838" stroke-width="1"/>
<line x1="63.2" y1="410.9" x2="68.05" y2="410.9" stroke="#383838" stroke-width="1"/>
<line x1="63.2" y1="392.5" x2="68.05" y2="392.5" stroke="#383838" stroke-width="1"/>
<text x="56.4" y="466.1" font-size="8" text-anchor="middle" transform="rotate(-90 56.4 466.1)">0.00</text>
<text x="56.4" y="429.3" font-size="8" text-anchor="middle" transform="rotate(-90 56.4 429.3)">0.04</text>
<text x="56.4" y="392.5" font-size="8" text-anchor="middle" transform="rotate(-90 56.4 392.5)">0.08</text>
<line x1="68.05" y1="462.9" x2="270.35" y2="420.1" stroke="#262626" stroke-width="1.2" clip-path="url(#c7)"/>
<g clip-path="url(#c7)" fill="#111"><circle cx="142.1" cy="436.5" r="1.6"/><circle cx="147.3" cy="455.0" r="1.6"/><circle cx="153.9" cy="449.0" r="1.6"/><circle cx="160.2" cy="425.6" r="1.6"/><circle cx="160.2" cy="427.3" r="1.6"/><circle cx="160.2" cy="428.7" r="1.6"/><circle cx="164.4" cy="442.5" r="1.6"/><circle cx="168.3" cy="440.2" r="1.6"/><circle cx="169.8" cy="446.0" r="1.6"/><circle cx="179.6" cy="450.4" r="1.6"/><circle cx="183.1" cy="452.5" r="1.6"/><circle cx="184.8" cy="433.7" r="1.6"/><circle cx="185.2" cy="436.5" r="1.6"/><circle cx="188.3" cy="434.5" r="1.6"/><circle cx="186.0" cy="442.3" r="1.6"/><circle cx="189.8" cy="422.1" r="1.6"/><circle cx="203.4" cy="418.7" r="1.6"/><circle cx="208.2" cy="423.1" r="1.6"/><circle cx="212.6" cy="420.2" r="1.6"/><circle cx="218.4" cy="421.4" r="1.6"/><circle cx="223.2" cy="415.8" r="1.6"/><circle cx="227.6" cy="418.5" r="1.6"/><circle cx="195.2" cy="432.3" r="1.6"/><circle cx="200.0" cy="432.7" r="1.6"/><circle cx="205.3" cy="435.2" r="1.6"/><circle cx="203.4" cy="438.3" r="1.6"/><circle cx="212.6" cy="429.8" r="1.6"/><circle cx="213.1" cy="436.3" r="1.6"/><circle cx="217.4" cy="433.7" r="1.6"/><circle cx="224.7" cy="426.5" r="1.6"/><circle cx="228.1" cy="427.4" r="1.6"/><circle cx="224.2" cy="432.7" r="1.6"/><circle cx="225.2" cy="433.4" r="1.6"/><circle cx="198.6" cy="443.1" r="1.6"/><circle cx="203.4" cy="446.0" r="1.6"/><circle cx="210.7" cy="442.4" r="1.6"/><circle cx="216.5" cy="440.8" r="1.6"/><circle cx="218.4" cy="445.3" r="1.6"/><circle cx="223.7" cy="439.8" r="1.6"/><circle cx="225.7" cy="439.8" r="1.6"/><circle cx="203.9" cy="451.8" r="1.6"/><circle cx="205.3" cy="450.7" r="1.6"/><circle cx="254.4" cy="385.4" r="1.6"/><circle cx="247.9" cy="394.4" r="1.6"/><circle cx="262.4" cy="399.3" r="1.6"/><circle cx="261.3" cy="411.1" r="1.6"/><circle cx="258.2" cy="413.7" r="1.6"/><circle cx="259.8" cy="414.5" r="1.6"/><circle cx="262.9" cy="417.3" r="1.6"/><circle cx="259.0" cy="417.9" r="1.6"/><circle cx="259.8" cy="419.9" r="1.6"/><circle cx="249.7" cy="414.5" r="1.6"/><circle cx="252.1" cy="417.3" r="1.6"/><circle cx="234.3" cy="417.9" r="1.6"/><circle cx="236.6" cy="417.3" r="1.6"/><circle cx="238.9" cy="416.8" r="1.6"/><circle cx="241.2" cy="415.7" r="1.6"/><circle cx="244.8" cy="417.6" r="1.6"/><circle cx="244.3" cy="419.9" r="1.6"/><circle cx="234.3" cy="420.3" r="1.6"/><circle cx="232.4" cy="423.4" r="1.6"/><circle cx="230.4" cy="425.3" r="1.6"/><circle cx="225.8" cy="427.6" r="1.6"/><circle cx="246.6" cy="426.1" r="1.6"/><circle cx="248.2" cy="426.8" r="1.6"/><circle cx="251.3" cy="424.5" r="1.6"/><circle cx="254.4" cy="422.5" r="1.6"/><circle cx="258.2" cy="423.4" r="1.6"/><circle cx="255.9" cy="428.1" r="1.6"/><circle cx="259.8" cy="426.8" r="1.6"/><circle cx="261.3" cy="429.2" r="1.6"/><circle cx="262.1" cy="431.2" r="1.6"/><circle cx="245.9" cy="430.7" r="1.6"/><circle cx="249.7" cy="432.2" r="1.6"/><circle cx="252.1" cy="433.8" r="1.6"/><circle cx="255.1" cy="435.8" r="1.6"/><circle cx="259.0" cy="432.7" r="1.6"/><circle cx="241.7" cy="432.2" r="1.6"/><circle cx="231.5" cy="432.7" r="1.6"/><circle cx="244.3" cy="436.1" r="1.6"/><circle cx="234.6" cy="436.4" r="1.6"/><circle cx="262.1" cy="436.4" r="1.6"/><circle cx="237.7" cy="443.5" r="1.6"/><circle cx="243.2" cy="443.1" r="1.6"/><circle cx="256.7" cy="442.6" r="1.6"/><circle cx="259.8" cy="442.6" r="1.6"/></g>
<text x="114.6" y="403.7" font-size="7.8"><tspan font-style="italic">R</tspan><tspan font-size="4.8" dy="-3.2">2</tspan><tspan dy="3.2">= 0.28</tspan></text>
<text x="76.7" y="415.8" font-size="7.8">BF(<tspan font-style="italic">M</tspan><tspan font-style="italic" font-size="5.2" dy="1.6">het</tspan><tspan dy="-1.6">-</tspan><tspan font-style="italic">M</tspan><tspan font-style="italic" font-size="5.2" dy="1.6">iso</tspan><tspan dy="-1.6">) = 77.97</tspan></text>
<rect x="317.5" y="382.25" width="202.3" height="86.9" fill="none" stroke="#383838" stroke-width="1"/>
<line x1="324.9" y1="469.2" x2="324.9" y2="474.0" stroke="#383838" stroke-width="1"/>
<text x="324.9" y="486.7" font-size="8" text-anchor="middle">−6</text>
<line x1="356.2" y1="469.2" x2="356.2" y2="474.0" stroke="#383838" stroke-width="1"/>
<text x="356.2" y="486.7" font-size="8" text-anchor="middle">−5</text>
<line x1="387.4" y1="469.2" x2="387.4" y2="474.0" stroke="#383838" stroke-width="1"/>
<text x="387.4" y="486.7" font-size="8" text-anchor="middle">−4</text>
<line x1="418.7" y1="469.2" x2="418.7" y2="474.0" stroke="#383838" stroke-width="1"/>
<text x="418.7" y="486.7" font-size="8" text-anchor="middle">−3</text>
<line x1="449.9" y1="469.2" x2="449.9" y2="474.0" stroke="#383838" stroke-width="1"/>
<text x="449.9" y="486.7" font-size="8" text-anchor="middle">−2</text>
<line x1="481.2" y1="469.2" x2="481.2" y2="474.0" stroke="#383838" stroke-width="1"/>
<text x="481.2" y="486.7" font-size="8" text-anchor="middle">−1</text>
<line x1="512.5" y1="469.2" x2="512.5" y2="474.0" stroke="#383838" stroke-width="1"/>
<text x="512.5" y="486.7" font-size="8" text-anchor="middle">0</text>
<line x1="312.7" y1="466.0" x2="317.5" y2="466.0" stroke="#383838" stroke-width="1"/>
<line x1="312.7" y1="451.1" x2="317.5" y2="451.1" stroke="#383838" stroke-width="1"/>
<line x1="312.7" y1="436.2" x2="317.5" y2="436.2" stroke="#383838" stroke-width="1"/>
<line x1="312.7" y1="421.3" x2="317.5" y2="421.3" stroke="#383838" stroke-width="1"/>
<line x1="312.7" y1="406.4" x2="317.5" y2="406.4" stroke="#383838" stroke-width="1"/>
<line x1="312.7" y1="391.5" x2="317.5" y2="391.5" stroke="#383838" stroke-width="1"/>
<text x="305.9" y="466.0" font-size="8" text-anchor="middle" transform="rotate(-90 305.9 466.0)">0.00</text>
<text x="305.9" y="436.2" font-size="8" text-anchor="middle" transform="rotate(-90 305.9 436.2)">0.04</text>
<text x="305.9" y="406.4" font-size="8" text-anchor="middle" transform="rotate(-90 305.9 406.4)">0.08</text>
<line x1="413.8" y1="469.2" x2="519.8" y2="412.9" stroke="#262626" stroke-width="1.2" clip-path="url(#c8)"/>
<g clip-path="url(#c8)" fill="#111"><circle cx="509.3" cy="385.4" r="1.6"/><circle cx="501.6" cy="387.1" r="1.6"/><circle cx="501.6" cy="388.8" r="1.6"/><circle cx="502.5" cy="395.6" r="1.6"/><circle cx="505.9" cy="396.5" r="1.6"/><circle cx="500.4" cy="397.8" r="1.6"/><circle cx="498.2" cy="399.9" r="1.6"/><circle cx="510.6" cy="397.8" r="1.6"/><circle cx="508.9" cy="399.9" r="1.6"/><circle cx="504.2" cy="402.5" r="1.6"/><circle cx="506.3" cy="402.9" r="1.6"/><circle cx="508.5" cy="402.5" r="1.6"/><circle cx="511.9" cy="402.5" r="1.6"/><circle cx="510.6" cy="405.0" r="1.6"/><circle cx="507.2" cy="405.0" r="1.6"/><circle cx="498.2" cy="404.6" r="1.6"/><circle cx="501.6" cy="407.1" r="1.6"/><circle cx="506.3" cy="407.6" r="1.6"/><circle cx="508.5" cy="409.3" r="1.6"/><circle cx="506.8" cy="410.1" r="1.6"/><circle cx="509.7" cy="412.7" r="1.6"/><circle cx="497.8" cy="411.4" r="1.6"/><circle cx="499.1" cy="414.0" r="1.6"/><circle cx="501.6" cy="411.8" r="1.6"/><circle cx="503.8" cy="413.5" r="1.6"/><circle cx="504.2" cy="416.1" r="1.6"/><circle cx="506.3" cy="416.5" r="1.6"/><circle cx="508.0" cy="417.0" r="1.6"/><circle cx="503.3" cy="418.7" r="1.6"/><circle cx="505.0" cy="419.5" r="1.6"/><circle cx="511.0" cy="418.7" r="1.6"/><circle cx="497.4" cy="424.2" r="1.6"/><circle cx="500.8" cy="423.8" r="1.6"/><circle cx="505.0" cy="423.8" r="1.6"/><circle cx="508.5" cy="424.2" r="1.6"/><circle cx="511.0" cy="423.8" r="1.6"/><circle cx="498.2" cy="435.0" r="1.6"/><circle cx="507.4" cy="434.5" r="1.6"/><circle cx="511.2" cy="432.6" r="1.6"/><circle cx="496.7" cy="443.0" r="1.6"/><circle cx="500.6" cy="443.2" r="1.6"/><circle cx="502.5" cy="443.2" r="1.6"/><circle cx="504.9" cy="443.2" r="1.6"/><circle cx="508.8" cy="441.1" r="1.6"/><circle cx="510.1" cy="443.0" r="1.6"/><circle cx="500.1" cy="449.0" r="1.6"/><circle cx="502.5" cy="449.5" r="1.6"/><circle cx="510.5" cy="448.3" r="1.6"/><circle cx="496.7" cy="456.0" r="1.6"/><circle cx="498.2" cy="455.6" r="1.6"/><circle cx="500.4" cy="465.7" r="1.6"/><circle cx="505.0" cy="404.0" r="1.6"/><circle cx="507.5" cy="406.5" r="1.6"/><circle cx="509.5" cy="404.0" r="1.6"/><circle cx="505.5" cy="411.0" r="1.6"/><circle cx="507.5" cy="413.0" r="1.6"/><circle cx="503.0" cy="409.0" r="1.6"/><circle cx="500.0" cy="409.5" r="1.6"/><circle cx="502.0" cy="415.0" r="1.6"/><circle cx="507.0" cy="420.5" r="1.6"/><circle cx="509.5" cy="421.0" r="1.6"/><circle cx="499.6" cy="424.8" r="1.6"/><circle cx="501.4" cy="424.8" r="1.6"/><circle cx="503.2" cy="424.8" r="1.6"/><circle cx="506.8" cy="424.8" r="1.6"/><circle cx="510.4" cy="424.8" r="1.6"/><circle cx="498.1" cy="426.4" r="1.6"/><circle cx="499.8" cy="426.4" r="1.6"/><circle cx="501.6" cy="426.4" r="1.6"/><circle cx="503.3" cy="426.4" r="1.6"/><circle cx="505.0" cy="426.4" r="1.6"/><circle cx="506.7" cy="426.4" r="1.6"/><circle cx="508.4" cy="426.4" r="1.6"/><circle cx="510.2" cy="426.4" r="1.6"/><circle cx="511.9" cy="426.4" r="1.6"/><circle cx="497.7" cy="428.0" r="1.6"/><circle cx="499.3" cy="428.0" r="1.6"/><circle cx="500.9" cy="428.0" r="1.6"/><circle cx="502.6" cy="428.0" r="1.6"/><circle cx="504.2" cy="428.0" r="1.6"/><circle cx="505.8" cy="428.0" r="1.6"/><circle cx="507.4" cy="428.0" r="1.6"/><circle cx="509.1" cy="428.0" r="1.6"/><circle cx="510.7" cy="428.0" r="1.6"/><circle cx="512.3" cy="428.0" r="1.6"/><circle cx="498.1" cy="429.6" r="1.6"/><circle cx="499.8" cy="429.6" r="1.6"/><circle cx="501.6" cy="429.6" r="1.6"/><circle cx="503.3" cy="429.6" r="1.6"/><circle cx="505.0" cy="429.6" r="1.6"/><circle cx="506.7" cy="429.6" r="1.6"/><circle cx="508.4" cy="429.6" r="1.6"/><circle cx="510.2" cy="429.6" r="1.6"/><circle cx="511.9" cy="429.6" r="1.6"/><circle cx="499.6" cy="431.2" r="1.6"/><circle cx="501.4" cy="431.2" r="1.6"/><circle cx="503.2" cy="431.2" r="1.6"/><circle cx="505.0" cy="431.2" r="1.6"/><circle cx="506.8" cy="431.2" r="1.6"/><circle cx="508.6" cy="431.2" r="1.6"/><circle cx="510.4" cy="431.2" r="1.6"/><circle cx="505.0" cy="432.8" r="1.6"/></g>
<text x="381.4" y="418.8" font-size="7.8"><tspan font-style="italic">R</tspan><tspan font-size="4.8" dy="-3.2">2</tspan><tspan dy="3.2">= 0.02</tspan></text>
<text x="343.5" y="431.0" font-size="7.8">BF(<tspan font-style="italic">M</tspan><tspan font-style="italic" font-size="5.2" dy="1.6">het</tspan><tspan dy="-1.6">-</tspan><tspan font-style="italic">M</tspan><tspan font-style="italic" font-size="5.2" dy="1.6">iso</tspan><tspan dy="-1.6">) = 5.48</tspan></text>
<text x="9.4" y="54.9" font-size="13.5" text-anchor="middle" transform="rotate(-90 9.4 54.9)"><tspan font-style="italic">σ</tspan>=0.0</text>
<text x="9.4" y="182.9" font-size="13.5" text-anchor="middle" transform="rotate(-90 9.4 182.9)"><tspan font-style="italic">σ</tspan>=0.1</text>
<text x="9.4" y="297.0" font-size="13.5" text-anchor="middle" transform="rotate(-90 9.4 297.0)"><tspan font-style="italic">σ</tspan>=0.5</text>
<text x="9.4" y="430.1" font-size="13.5" text-anchor="middle" transform="rotate(-90 9.4 430.1)"><tspan font-style="italic">σ</tspan>=1.0</text>
<text x="38.3" y="243.6" font-size="14.2" text-anchor="middle" transform="rotate(-90 38.3 243.6)">Root-to-tip distance (subs/site)</text>
<text x="276.3" y="513.5" font-size="14" text-anchor="middle">Time from youngest tip</text>
</svg></body></html>
